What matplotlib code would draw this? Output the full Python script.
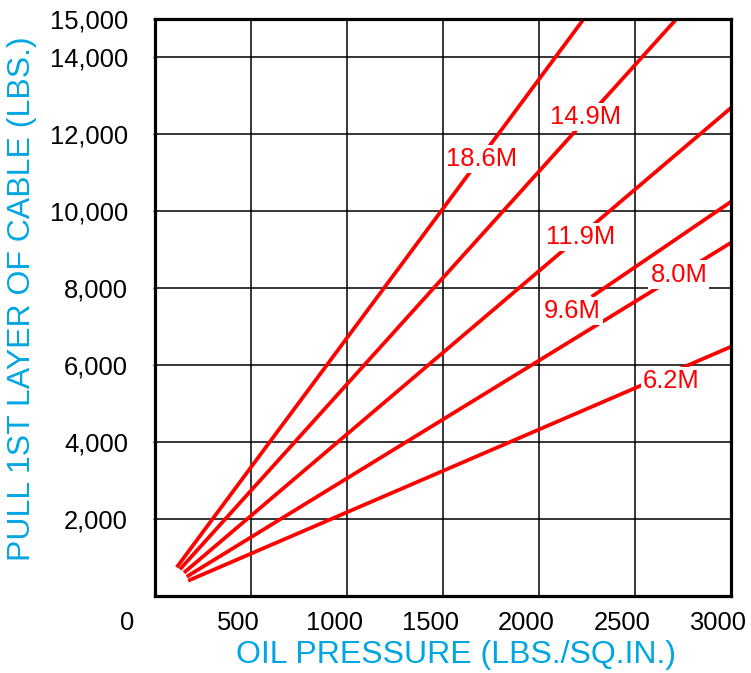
import matplotlib
matplotlib.use("Agg")
import matplotlib.pyplot as plt
import matplotlib.transforms as mtransforms
from matplotlib.ticker import FuncFormatter

plt.rcParams['font.family'] = ['Liberation Sans', 'DejaVu Sans']

# лінії: назва, початок (x, y) і кінець (x, y)
names = ["18.6M", "14.9M", "11.9M", "9.6M", "8.0M", "6.2M"]
x_start = [113, 130, 151, 2274, 165, 173]
y_start = [746, 694, 606, 7780, 502, 398]
x_end = [2233, 2716, 3000, 3000, 3000, 3000]
y_end = [15000, 15000, 12690, 10250, 9184, 6480]

# ділення осей
x_ticks = [0, 500, 1000, 1500, 2000, 2500, 3000]
y_ticks = [2000, 4000, 6000, 8000, 10000, 12000, 14000, 15000]

# місця підписів ліній
label_x = [1700, 2245, 2219, 2174, 2729, 2688]
label_y = [11360, 12451, 9332, 7408, 8357, 5589]

red = "#ff0000"
blue = "#00a6e2"

fig = plt.figure(figsize=(7.51, 6.73), dpi=100)
ax = fig.add_axes([155 / 751, 1 - 596 / 673, 576 / 751, 577 / 673])

ax.set_xlim(0, 3000)
ax.set_ylim(0, 15000)

# сітка
for xv in x_ticks[1:-1]:
    ax.axvline(xv, color="black", lw=1.1, zorder=1)
for yv in y_ticks[:-1]:
    ax.axhline(yv, color="black", lw=1.1, zorder=1)

for i in range(len(names)):
    ax.plot([x_start[i], x_end[i]], [y_start[i], y_end[i]], color=red, lw=2.7,
            solid_capstyle="butt", zorder=2)
    ax.text(label_x[i], label_y[i], names[i], color=red, fontsize=18.4,
            ha="center", va="center", zorder=3,
            bbox=dict(facecolor="white", edgecolor="none", pad=1.5))

for s in ax.spines.values():
    s.set_linewidth(2.3)
    s.set_color("black")

ax.set_xticks(x_ticks)
ax.set_yticks(y_ticks)
ax.yaxis.set_major_formatter(FuncFormatter(lambda v, p: "{:,}".format(int(v))))
ax.tick_params(axis="y", length=1.5, width=1, pad=18, labelsize=18.4)
ax.tick_params(axis="x", length=0, pad=11, labelsize=18.4)

# підписи по x трохи зсунуті ліворуч
for lab in ax.get_xticklabels():
    dx = -28 if lab.get_text() == "0" else -13
    off = mtransforms.ScaledTranslation(dx / 100, 0, fig.dpi_scale_trans)
    lab.set_transform(lab.get_transform() + off)

fig.text(456 / 751, 1 - 655 / 673, "OIL PRESSURE (LBS./SQ.IN.)", color=blue,
         fontsize=23, ha="center", va="center")
fig.text(22 / 751, 1 - 299 / 673, "PULL 1ST LAYER OF CABLE (LBS.)", color=blue,
         fontsize=23, ha="center", va="center", rotation=90)

fig.savefig("out.png", dpi=100)
